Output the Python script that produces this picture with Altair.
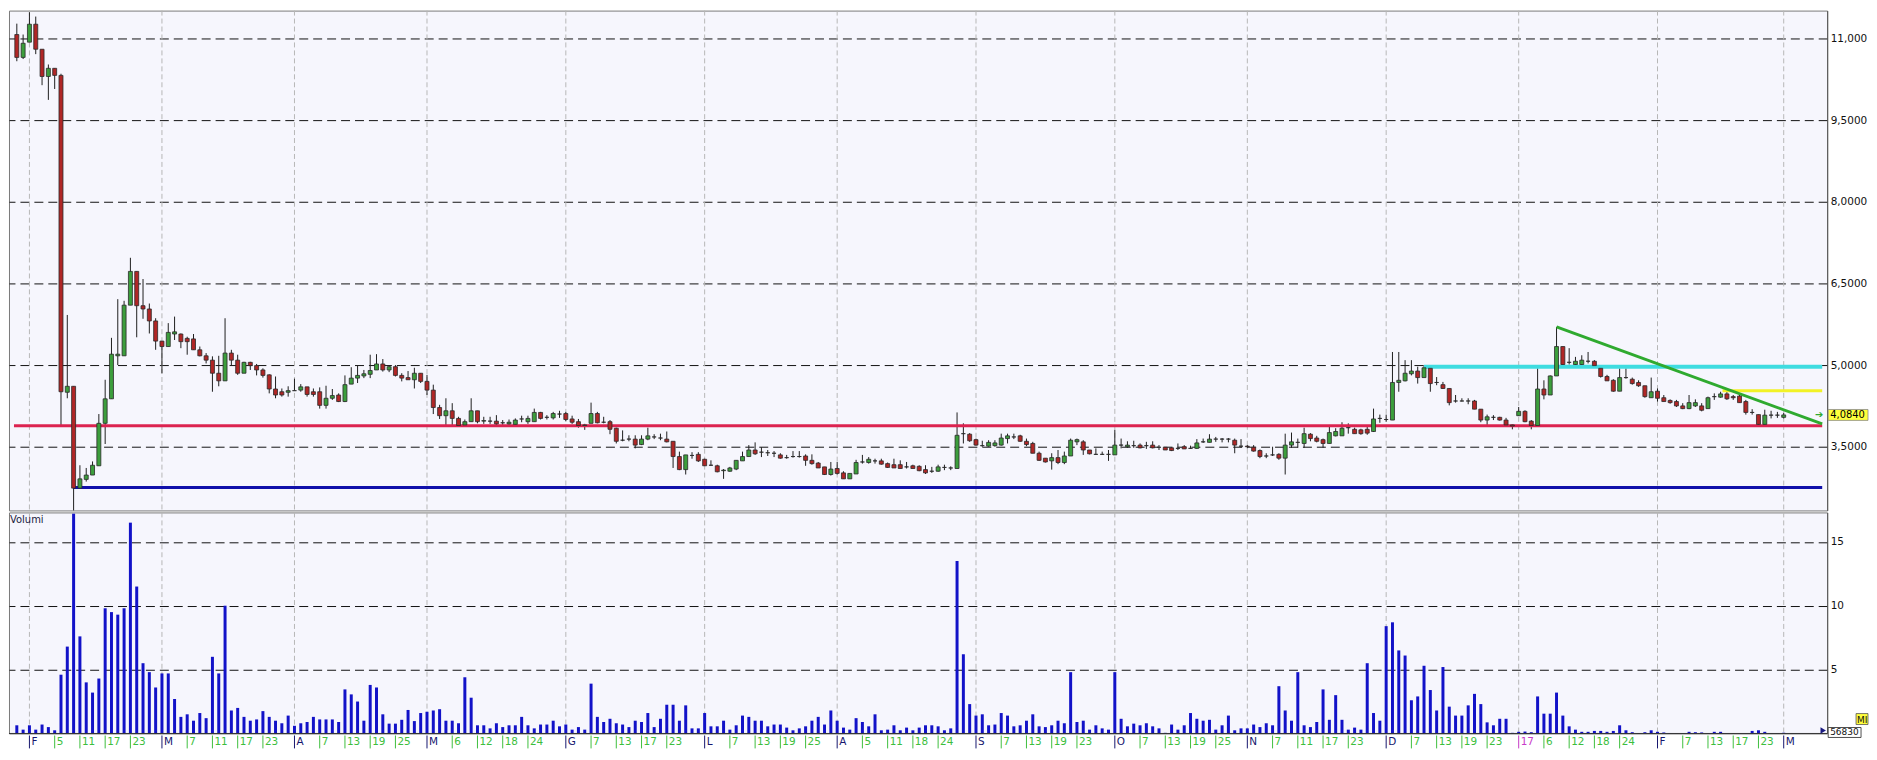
import altair as alt
import pandas as pd

# ---------------- data ----------------
opens = [
    11.07, 10.65, 10.93, 11.26, 10.80, 10.30, 10.45, 10.32, 4.50, 4.61,
    2.74, 2.90, 2.98, 3.15, 3.93, 4.38, 5.17, 5.17, 6.10, 6.72,
    6.09, 6.03, 5.81, 5.44, 5.34, 5.57, 5.57, 5.49, 5.48, 5.28,
    5.17, 5.09, 4.85, 4.71, 5.22, 5.09, 4.85, 5.05, 4.99, 4.91,
    4.82, 4.56, 4.51, 4.50, 4.53, 4.54, 4.60, 4.51, 4.51, 4.26,
    4.39, 4.45, 4.33, 4.65, 4.76, 4.80, 4.83, 4.91, 5.02, 4.91,
    4.97, 4.81, 4.77, 4.73, 4.85, 4.70, 4.54, 4.22, 4.07, 4.16,
    4.02, 3.90, 3.96, 4.16, 3.97, 3.97, 3.97, 3.94, 3.92, 3.91,
    4.01, 3.96, 3.96, 4.13, 4.04, 4.03, 4.10, 4.11, 4.01, 3.96,
    3.89, 3.93, 4.11, 3.95, 3.96, 3.84, 3.62, 3.64, 3.64, 3.54,
    3.64, 3.68, 3.66, 3.64, 3.60, 3.32, 3.08, 3.34, 3.36, 3.27,
    3.16, 3.15, 3.06, 3.05, 3.09, 3.24, 3.32, 3.44, 3.40, 3.39,
    3.38, 3.35, 3.30, 3.32, 3.32, 3.33, 3.25, 3.20, 3.13, 2.99,
    3.10, 3.02, 2.91, 3.00, 3.22, 3.21, 3.24, 3.24, 3.19, 3.17,
    3.17, 3.13, 3.15, 3.14, 3.08, 3.05, 3.05, 3.12, 3.11, 3.10,
    3.74, 3.73, 3.63, 3.52, 3.51, 3.52, 3.53, 3.65, 3.68, 3.70,
    3.60, 3.56, 3.38, 3.29, 3.24, 3.30, 3.21, 3.33, 3.59, 3.59,
    3.44, 3.36, 3.36, 3.36, 3.35, 3.53, 3.50, 3.52, 3.53, 3.52,
    3.53, 3.49, 3.49, 3.48, 3.47, 3.50, 3.47, 3.47, 3.59, 3.58,
    3.64, 3.64, 3.64, 3.62, 3.51, 3.51, 3.49, 3.43, 3.33, 3.35,
    3.36, 3.29, 3.53, 3.58, 3.56, 3.73, 3.66, 3.63, 3.56, 3.70,
    3.70, 3.85, 3.82, 3.81, 3.82, 3.78, 4.02, 4.00, 3.99, 4.68,
    4.71, 4.84, 4.89, 4.77, 4.94, 4.68, 4.64, 4.57, 4.34, 4.34,
    4.34, 4.34, 4.19, 3.99, 4.04, 4.04, 3.99, 3.90, 4.07, 4.15,
    3.97, 3.89, 4.56, 4.45, 4.80, 5.34, 5.05, 5.01, 5.01, 5.07,
    5.07, 4.94, 4.79, 4.72, 4.52, 4.77, 4.74, 4.68, 4.62, 4.40,
    4.52, 4.40, 4.35, 4.33, 4.25, 4.20, 4.25, 4.25, 4.20, 4.42,
    4.41, 4.47, 4.42, 4.43, 4.33, 4.13, 4.09, 3.91, 4.08, 4.08,
    4.04,
]
highs = [
    11.27, 11.07, 11.48, 11.40, 10.80, 10.52, 10.45, 10.35, 5.92, 4.61,
    3.16, 3.11, 3.23, 4.10, 4.73, 5.50, 6.21, 6.18, 6.97, 6.72,
    6.58, 6.13, 5.86, 5.44, 5.77, 5.89, 5.58, 5.52, 5.57, 5.34,
    5.22, 5.16, 5.17, 5.86, 5.28, 5.19, 5.06, 5.06, 5.02, 4.94,
    4.83, 4.79, 4.57, 4.61, 4.75, 4.65, 4.60, 4.57, 4.59, 4.62,
    4.56, 4.48, 4.81, 4.96, 5.00, 4.91, 5.19, 5.20, 5.11, 5.00,
    5.00, 4.85, 4.89, 4.95, 4.85, 4.82, 4.64, 4.27, 4.39, 4.30,
    4.05, 4.00, 4.39, 4.16, 4.05, 4.05, 4.08, 3.99, 4.00, 4.02,
    4.07, 4.07, 4.20, 4.14, 4.08, 4.14, 4.16, 4.14, 4.07, 4.01,
    3.92, 4.31, 4.14, 4.05, 3.99, 3.85, 3.80, 3.71, 3.71, 3.71,
    3.85, 3.73, 3.74, 3.78, 3.60, 3.41, 3.35, 3.40, 3.40, 3.28,
    3.25, 3.17, 3.09, 3.13, 3.25, 3.41, 3.53, 3.58, 3.49, 3.44,
    3.42, 3.38, 3.35, 3.42, 3.42, 3.36, 3.36, 3.22, 3.13, 3.22,
    3.22, 3.05, 3.01, 3.26, 3.35, 3.31, 3.28, 3.28, 3.21, 3.28,
    3.25, 3.22, 3.17, 3.16, 3.16, 3.13, 3.17, 3.17, 3.14, 4.13,
    3.93, 3.75, 3.65, 3.61, 3.62, 3.62, 3.74, 3.74, 3.74, 3.72,
    3.65, 3.59, 3.41, 3.29, 3.38, 3.44, 3.41, 3.65, 3.65, 3.62,
    3.44, 3.47, 3.41, 3.44, 3.81, 3.65, 3.60, 3.61, 3.56, 3.59,
    3.60, 3.53, 3.49, 3.49, 3.56, 3.53, 3.52, 3.64, 3.65, 3.73,
    3.68, 3.66, 3.66, 3.65, 3.64, 3.53, 3.53, 3.45, 3.38, 3.50,
    3.38, 3.74, 3.76, 3.65, 3.85, 3.75, 3.70, 3.65, 3.90, 3.84,
    3.95, 3.93, 3.85, 3.83, 3.87, 4.20, 4.09, 4.09, 5.24, 5.24,
    5.09, 5.09, 4.97, 5.00, 4.94, 4.78, 4.69, 4.57, 4.45, 4.39,
    4.39, 4.36, 4.19, 4.09, 4.08, 4.05, 4.03, 3.91, 4.23, 4.17,
    3.99, 4.94, 4.72, 4.81, 5.70, 5.34, 5.31, 5.15, 5.18, 5.24,
    5.09, 4.94, 4.82, 4.74, 4.94, 4.94, 4.77, 4.72, 4.62, 4.77,
    4.57, 4.45, 4.37, 4.36, 4.30, 4.45, 4.37, 4.30, 4.42, 4.48,
    4.51, 4.51, 4.45, 4.45, 4.36, 4.19, 4.09, 4.18, 4.16, 4.14,
    4.12,
]
lows = [
    10.58, 10.62, 10.93, 10.71, 10.14, 9.87, 10.07, 3.89, 4.39, 2.33,
    2.74, 2.86, 2.98, 3.15, 3.55, 4.38, 5.00, 5.17, 6.10, 5.51,
    5.85, 5.58, 5.28, 4.85, 5.34, 5.46, 5.31, 5.19, 5.28, 5.16,
    5.03, 4.51, 4.61, 4.71, 5.00, 4.82, 4.85, 4.91, 4.81, 4.77,
    4.48, 4.39, 4.42, 4.42, 4.53, 4.51, 4.42, 4.42, 4.20, 4.20,
    4.36, 4.32, 4.32, 4.65, 4.67, 4.76, 4.76, 4.91, 4.88, 4.87,
    4.79, 4.70, 4.73, 4.57, 4.67, 4.45, 4.10, 4.01, 3.89, 3.89,
    3.89, 3.89, 3.96, 3.93, 3.92, 3.92, 3.90, 3.90, 3.90, 3.90,
    3.95, 3.92, 3.96, 4.00, 4.00, 4.00, 4.03, 3.97, 3.92, 3.85,
    3.81, 3.93, 3.93, 3.93, 3.73, 3.56, 3.60, 3.60, 3.47, 3.53,
    3.62, 3.64, 3.62, 3.58, 3.11, 3.07, 2.99, 3.28, 3.22, 3.15,
    3.15, 3.03, 2.91, 3.04, 3.07, 3.24, 3.32, 3.35, 3.31, 3.33,
    3.31, 3.28, 3.28, 3.30, 3.30, 3.15, 3.17, 3.11, 2.98, 2.97,
    2.99, 2.91, 2.91, 3.00, 3.19, 3.19, 3.19, 3.17, 3.11, 3.11,
    3.10, 3.10, 3.10, 3.05, 3.00, 3.02, 3.04, 3.07, 3.07, 3.10,
    3.56, 3.59, 3.52, 3.50, 3.50, 3.50, 3.52, 3.56, 3.64, 3.59,
    3.51, 3.38, 3.24, 3.21, 3.08, 3.18, 3.18, 3.33, 3.53, 3.35,
    3.36, 3.35, 3.35, 3.24, 3.35, 3.47, 3.48, 3.48, 3.47, 3.46,
    3.47, 3.44, 3.44, 3.42, 3.44, 3.46, 3.46, 3.46, 3.57, 3.58,
    3.59, 3.58, 3.58, 3.38, 3.48, 3.47, 3.41, 3.29, 3.29, 3.33,
    3.26, 2.99, 3.48, 3.48, 3.48, 3.60, 3.58, 3.48, 3.56, 3.69,
    3.70, 3.74, 3.74, 3.72, 3.72, 3.77, 3.94, 3.96, 3.99, 4.51,
    4.70, 4.81, 4.66, 4.77, 4.51, 4.63, 4.56, 4.26, 4.31, 4.33,
    4.28, 4.19, 3.95, 3.90, 3.99, 3.98, 3.89, 3.82, 4.07, 3.95,
    3.82, 3.89, 4.37, 4.45, 4.80, 4.99, 5.01, 4.99, 4.99, 5.03,
    4.95, 4.77, 4.71, 4.51, 4.52, 4.75, 4.64, 4.60, 4.40, 4.40,
    4.33, 4.33, 4.29, 4.23, 4.19, 4.19, 4.23, 4.15, 4.20, 4.36,
    4.40, 4.36, 4.36, 4.31, 4.09, 4.09, 3.90, 3.90, 4.02, 4.03,
    4.02,
]
closes = [
    10.65, 10.91, 11.26, 10.80, 10.30, 10.45, 10.32, 4.51, 4.61, 2.74,
    2.91, 2.98, 3.16, 3.93, 4.38, 5.20, 5.20, 6.10, 6.72, 6.09,
    6.03, 5.81, 5.44, 5.34, 5.60, 5.61, 5.43, 5.43, 5.28, 5.17,
    5.09, 4.85, 4.71, 5.22, 5.09, 4.85, 5.05, 4.99, 4.91, 4.81,
    4.56, 4.45, 4.45, 4.53, 4.53, 4.60, 4.46, 4.46, 4.26, 4.39,
    4.44, 4.33, 4.64, 4.76, 4.81, 4.84, 4.90, 5.02, 4.91, 4.97,
    4.81, 4.76, 4.73, 4.85, 4.70, 4.54, 4.22, 4.07, 4.16, 4.02,
    3.89, 3.96, 4.16, 3.96, 3.98, 3.97, 3.92, 3.94, 3.95, 3.99,
    4.01, 4.02, 4.13, 4.02, 4.04, 4.11, 4.10, 4.00, 3.95, 3.89,
    3.90, 4.11, 3.94, 3.95, 3.82, 3.60, 3.62, 3.64, 3.53, 3.64,
    3.70, 3.68, 3.66, 3.59, 3.32, 3.08, 3.35, 3.34, 3.24, 3.15,
    3.16, 3.04, 3.07, 3.11, 3.25, 3.32, 3.44, 3.37, 3.40, 3.39,
    3.38, 3.29, 3.30, 3.32, 3.32, 3.25, 3.19, 3.11, 2.99, 3.09,
    3.01, 2.91, 3.01, 3.21, 3.22, 3.27, 3.24, 3.18, 3.12, 3.11,
    3.10, 3.13, 3.10, 3.06, 3.02, 3.05, 3.13, 3.12, 3.11, 3.71,
    3.74, 3.61, 3.53, 3.52, 3.58, 3.57, 3.66, 3.70, 3.68, 3.60,
    3.54, 3.38, 3.25, 3.22, 3.30, 3.21, 3.33, 3.62, 3.63, 3.44,
    3.37, 3.36, 3.36, 3.36, 3.53, 3.53, 3.53, 3.52, 3.48, 3.52,
    3.48, 3.49, 3.44, 3.43, 3.47, 3.46, 3.47, 3.57, 3.59, 3.64,
    3.64, 3.64, 3.64, 3.53, 3.51, 3.50, 3.42, 3.32, 3.33, 3.35,
    3.29, 3.53, 3.59, 3.58, 3.74, 3.65, 3.60, 3.56, 3.76, 3.78,
    3.84, 3.85, 3.74, 3.74, 3.75, 4.01, 4.02, 4.00, 4.68, 4.72,
    4.85, 4.89, 4.77, 4.95, 4.66, 4.68, 4.57, 4.31, 4.34, 4.34,
    4.34, 4.19, 3.99, 4.05, 4.04, 3.99, 3.90, 3.88, 4.15, 3.96,
    3.89, 4.56, 4.45, 4.80, 5.34, 5.01, 5.05, 5.07, 5.09, 5.07,
    4.99, 4.79, 4.71, 4.52, 4.77, 4.77, 4.66, 4.62, 4.42, 4.51,
    4.39, 4.33, 4.31, 4.25, 4.20, 4.31, 4.31, 4.17, 4.40, 4.42,
    4.47, 4.38, 4.40, 4.31, 4.13, 4.13, 3.91, 4.08, 4.08, 4.08,
    4.084,
]
volumes = [
    0.64, 0.3, 0.64, 0.3, 0.7, 0.5, 0.25,
    4.6, 6.8, 17.2, 7.6, 4.0, 3.2, 4.3,
    9.8, 9.5, 9.3, 9.8, 16.5, 11.5, 5.5, 4.8,
    3.6, 4.7, 4.7, 2.7, 1.3, 1.5, 1.0, 1.6, 1.2,
    6.0, 4.7, 10.0,
    1.8, 2.0, 1.3, 1.0, 1.1, 1.75, 1.3, 1.0, 0.8, 1.4,
    0.6, 0.8, 0.9, 1.3, 1.1, 1.1, 1.1, 0.9,
    3.45, 3.06, 2.5, 1.0, 3.8, 3.6, 1.5, 0.77,
    0.77, 1.07, 1.84, 0.97, 1.6, 1.7, 1.8, 1.9, 1.0, 1.0,
    0.8, 4.4, 2.8, 0.64, 0.64, 0.4, 0.8, 0.5, 0.64, 0.64,
    1.3, 0.64, 0.4, 0.7, 0.7, 1.0, 0.56, 0.7, 0.3, 0.5,
    0.3, 3.9, 1.3, 0.9, 1.15, 0.8, 0.7, 0.5, 1.0, 0.9,
    1.6, 0.5, 1.15, 2.25, 2.25, 1.0, 2.2, 0.4, 0.4,
    1.6, 0.56, 0.56, 1.0, 0.3, 0.64, 1.4, 1.3, 1.0, 1.0,
    0.56, 0.7, 0.7, 0.46, 0.25, 0.4, 0.56, 1.0, 1.3, 0.7,
    1.8, 1.0, 0.46, 0.3, 1.2, 0.9, 0.56, 1.5, 0.25, 0.3,
    0.64, 0.25, 0.46, 0.25, 0.46, 0.64, 0.64, 0.56, 0.25, 0.4,
    13.5, 6.2, 2.3, 1.4, 1.5, 0.64, 0.7, 1.6, 1.4, 0.56,
    0.64, 1.0, 1.5, 0.56, 0.5, 0.64, 1.0, 0.8, 4.8, 0.9,
    1.0, 0.3, 0.64, 0.4, 0.3, 4.8, 1.15, 0.56, 0.77, 0.64,
    0.8, 0.56, 0.4, 0.05, 0.7, 0.3, 0.64, 1.6, 1.15, 1.0,
    1.07, 0.3, 0.64, 1.4, 0.25, 0.4, 0.4, 0.7, 0.5, 0.8,
    0.64, 3.7, 1.8, 1.0, 4.8, 0.64, 0.5, 0.9, 3.45, 1.07,
    3.0, 1.07, 0.3, 0.46, 0.3, 5.5, 1.6, 1.0,
    8.4, 8.7, 6.5, 6.1, 2.6, 2.9, 5.3, 3.4, 1.8, 5.2,
    2.1, 1.4, 1.4, 2.2, 3.1, 2.3, 0.87, 0.64, 1.15, 1.15, 0.05,
    0.13, 0.15, 0.1, 2.9, 1.55, 1.55, 3.2, 1.4, 0.56, 0.3,
    0.13, 0.13, 0.2, 0.2, 0.13, 0.2, 0.64, 0.25, 0.1, 0.03,
    0.1, 0.25, 0.13, 0.08, 0.02, 0.02, 0.02, 0.13, 0.1, 0.08,
    0.02, 0.13, 0.13, 0.02, 0.02, 0.02, 0.02, 0.2, 0.25, 0.13,
    0.03, 0.03, 0.05683,
]

# x-axis labels (trading-day index -> label)
month_idx = [2, 23, 44, 65, 87, 109, 130, 152, 174, 195, 217, 238, 260, 280]
month_lbl = ["F", "M", "A", "M", "G", "L", "A", "S", "O", "N", "D", "17", "F", "M"]
day_idx = [6, 10, 14, 18, 27, 31, 35, 39, 48, 52, 56, 60, 69, 73, 77, 81,
           91, 95, 99, 103, 113, 117, 121, 125, 134, 138, 142, 146,
           156, 160, 164, 168, 178, 182, 186, 190, 199, 203, 207, 211,
           221, 225, 229, 233, 242, 246, 250, 254, 264, 268, 272, 276]
day_lbl = ["5", "11", "17", "23", "7", "11", "17", "23", "7", "13", "19", "25",
           "6", "12", "18", "24", "7", "13", "17", "23", "7", "13", "19", "25",
           "5", "11", "18", "24", "7", "13", "19", "23", "7", "13", "19", "25",
           "7", "11", "17", "23", "7", "13", "19", "23", "6", "12", "18", "24",
           "7", "13", "17", "23"]

price_ticks = [3.5, 5.0, 6.5, 8.0, 9.5, 11.0]
volume_ticks = [5, 10, 15]

# drawn lines
support_level = 3.885      # red
low_level = 2.75           # blue
resistance_level = 4.97    # cyan
upper_level = 4.53         # yellow
trend_start = (244, 5.70)  # green trend line start
trend_end_price = 3.92

n = len(closes)
assert len(opens) == n and len(highs) == n and len(lows) == n and len(volumes) == n

df = pd.DataFrame({"i": list(range(n)), "o": opens, "h": highs, "l": lows,
                   "c": closes, "v": volumes})
df["dir"] = ["up" if c > o else ("down" if c < o else "flat") for o, c in zip(opens, closes)]

# ---------------- layout ----------------
W = 1826
PH = 502
VH = 222
X_DOMAIN = [-0.45, 286.1]
FONT = "DejaVu Sans"
GREEN = "#3C9E3C"
RED = "#B02626"

xs = alt.Scale(domain=X_DOMAIN, nice=False, zero=False)
ps = alt.Scale(domain=[2.33, 11.51], nice=False, zero=False)
vs = alt.Scale(domain=[0, 17.3], nice=False, zero=False)
X = alt.X("i:Q", scale=xs, axis=None)

one = pd.DataFrame({"a": [0]})
months = pd.DataFrame({"i": month_idx})

price_axis = alt.Axis(
    orient="right", values=price_ticks,
    labelExpr="datum.value == 11 ? '11,000' : replace(format(datum.value, '.4f'), '.', ',')",
    grid=True, gridColor="#111111", gridDash=[9, 5], gridWidth=1,
    ticks=False, domain=True, domainColor="#555555",
    labelFont=FONT, labelFontSize=10.5, labelColor="#111111", labelPadding=3, title=None)

vol_axis = alt.Axis(
    orient="right", values=volume_ticks, format="d",
    grid=True, gridColor="#111111", gridDash=[9, 5], gridWidth=1,
    ticks=False, domain=True, domainColor="#555555",
    labelFont=FONT, labelFontSize=10.5, labelColor="#111111", labelPadding=3, title=None)


def PY(field):
    return alt.Y(field, scale=ps, axis=price_axis)


vgrid = alt.Chart(months).mark_rule(color="#b6b6b6", strokeDash=[5, 3], strokeWidth=1).encode(x=X)

wicks = alt.Chart(df).mark_rule(color="#1e1e1e", strokeWidth=1).encode(
    x=X, y=PY("l:Q"), y2="h:Q")

bodies = alt.Chart(df).mark_bar(width=4, orient="vertical", stroke="#2a2a2a", strokeWidth=0.8).encode(
    x=X, y=PY("o:Q"), y2="c:Q",
    color=alt.Color("dir:N", scale=alt.Scale(domain=["up", "down", "flat"],
                                             range=[GREEN, RED, "#333333"]), legend=None))

line_specs = [
    # x start, x end, y start, y end, colour, width
    (X_DOMAIN[0], X_DOMAIN[1], support_level, support_level, "#DC2350", 3),
    (9, X_DOMAIN[1], low_level, low_level, "#1010AA", 3),
    (223, X_DOMAIN[1], resistance_level, resistance_level, "#3FDCE0", 4),
    (270.3, X_DOMAIN[1], upper_level, upper_level, "#F2F226", 3),
    (trend_start[0], X_DOMAIN[1], trend_start[1], trend_end_price, "#2FAA2F", 3),
]
line_layers = []
for xa, xb, ya, yb, col, sw in line_specs:
    d = pd.DataFrame({"x": [xa], "x2": [xb], "y": [ya], "y2": [yb]})
    line_layers.append(
        alt.Chart(d).mark_rule(color=col, strokeWidth=sw).encode(
            x=alt.X("x:Q", scale=xs, axis=None), x2="x2:Q",
            y=PY("y:Q"), y2="y2:Q"))

last_close = closes[-1]
tag = pd.DataFrame({"p": [last_close], "lbl": [f"{last_close:.4f}".replace(".", ",")]})
tag_box = alt.Chart(tag).transform_calculate(top="datum.p + 0.1", bot="datum.p - 0.1").mark_rect(
    fill="#FFFF3C", stroke="#8a8a8a", strokeWidth=0.8).encode(
    x=alt.value(W + 1), x2=alt.value(W + 41),
    y=PY("top:Q"), y2="bot:Q")
tag_text = alt.Chart(tag).mark_text(align="left", baseline="middle", font=FONT, fontSize=10,
                                    color="#000000").encode(
    x=alt.value(W + 3), y=PY("p:Q"), text="lbl:N")
tag_arrow = alt.Chart(tag).mark_text(align="center", baseline="middle", font=FONT, fontSize=10,
                                     color="#2FAA2F").encode(
    x=alt.value(W - 8), y=PY("p:Q"), text=alt.value("➔"))

price_panel = alt.layer(
    vgrid, wicks, *line_layers, bodies, tag_box, tag_text, tag_arrow
).properties(width=W, height=PH)

# ---------------- volume panel ----------------
vbars = alt.Chart(df).mark_bar(width=3, orient="vertical", color="#1212C8").encode(
    x=X, y=alt.Y("v:Q", scale=vs, axis=vol_axis))

baseline = alt.Chart(one).mark_rule(color="#333333", strokeWidth=1).encode(y=alt.value(VH))

volumi = alt.Chart(one).mark_text(align="left", baseline="top", font=FONT, fontSize=10,
                                  color="#1a1a40").encode(
    x=alt.value(1), y=alt.value(3), text=alt.value("Volumi"))

lab_i = month_idx + day_idx
lab_t = month_lbl + day_lbl
lab_c = [("#C83CC8" if t == "17" else "#16166E") for t in month_lbl] + ["#3DBE3D"] * len(day_lbl)
labels = pd.DataFrame({"i": lab_i, "t": lab_t, "col": lab_c})

lab_ticks = alt.Chart(labels).mark_rule(strokeWidth=1).encode(
    x=X, y=alt.value(VH + 2), y2=alt.value(VH + 15), color=alt.Color("col:N", scale=None))
lab_text = alt.Chart(labels).mark_text(align="left", baseline="middle", dx=2, font=FONT,
                                       fontSize=10.5).encode(
    x=X, y=alt.value(VH + 9), text="t:N", color=alt.Color("col:N", scale=None))

last_vol = pd.DataFrame({"lbl": [str(int(round(volumes[-1] * 1e6)))]})
vol_box = alt.Chart(last_vol).mark_rect(fill="#FFFFFF", stroke="#222222", strokeWidth=0.8).encode(
    x=alt.value(W + 1), x2=alt.value(W + 34), y=alt.value(VH - 6), y2=alt.value(VH + 4))
vol_text = alt.Chart(last_vol).mark_text(align="left", baseline="middle", font=FONT, fontSize=9,
                                         color="#111111").encode(
    x=alt.value(W + 3), y=alt.value(VH - 1), text="lbl:N")
vol_marker = alt.Chart(one).mark_point(shape="triangle-right", size=40, filled=True,
                                       color="#1a1a80", opacity=1).encode(
    x=alt.value(W - 4), y=alt.value(VH - 3))
mi_box = alt.Chart(one).mark_rect(fill="#FFFF3C", stroke="#555555", strokeWidth=0.8).encode(
    x=alt.value(W + 29), x2=alt.value(W + 41), y=alt.value(VH - 20), y2=alt.value(VH - 9))
mi_text = alt.Chart(one).mark_text(align="left", baseline="middle", font=FONT, fontSize=9,
                                   color="#111111").encode(
    x=alt.value(W + 30), y=alt.value(VH - 14), text=alt.value("MI"))

volume_panel = alt.layer(
    vgrid, vbars, baseline, volumi, lab_ticks, lab_text,
    vol_marker, vol_box, vol_text, mi_box, mi_text
).properties(width=W, height=VH)

chart = alt.vconcat(price_panel, volume_panel, spacing=0).properties(
    padding=0, background="#FFFFFF"
).configure_view(
    fill="#F6F6FD", stroke="#7a7a7a", strokeWidth=1
).configure_concat(spacing=0)

chart.save("out.html", embed_options={"renderer": "svg", "actions": False})
